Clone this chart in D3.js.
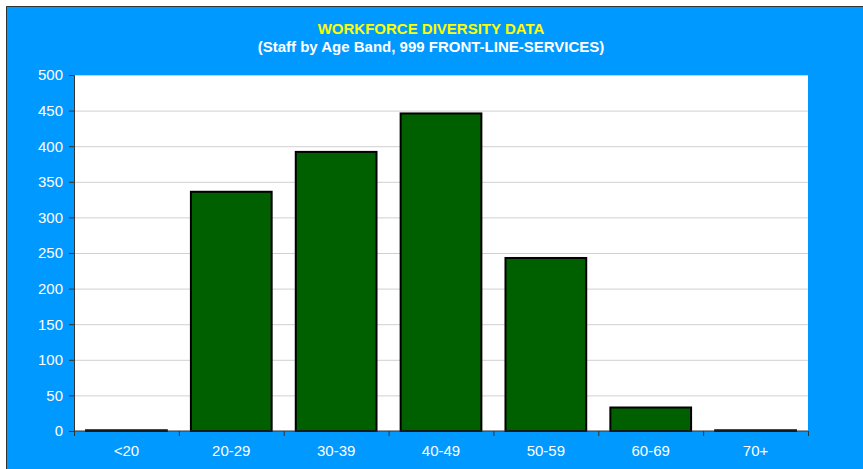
<!DOCTYPE html>
<html>
<head>
<meta charset="utf-8">
<script src="https://cdn.jsdelivr.net/npm/d3@7"></script>
<style>
body { margin: 0; background: #fff; }
svg { display: block; font-family: 'Liberation Sans', Arial, sans-serif; }
</style>
</head>
<body>
<script>
// chart data
var bands = ['<20', '20-29', '30-39', '40-49', '50-59', '60-69', '70+']
var staff = [1, 336, 392, 446, 243, 33, 1]
var yTicks = [0, 50, 100, 150, 200, 250, 300, 350, 400, 450, 500]

var W = 863, H = 469
var margin = { top: 75, right: 55, bottom: 38, left: 74 },
    width = 808 - margin.left,
    height = 431 - margin.top

var svg = d3.select('body').append('svg')
    .attr('width', W)
    .attr('height', H)

// blue frame with dark edge
svg.append('rect')
    .attr('x', 6).attr('y', 6)
    .attr('width', W - 6).attr('height', H - 6)
    .attr('fill', '#0099ff')
svg.append('path')
    .attr('d', 'M6.5,' + H + 'V6.5H' + W)
    .attr('fill', 'none')
    .attr('stroke', '#333')
    .attr('stroke-width', 1)

svg.append('text')
    .attr('x', 431).attr('y', 34)
    .attr('text-anchor', 'middle')
    .attr('fill', '#ffff00')
    .attr('font-weight', 'bold')
    .attr('font-size', 15)
    .text('WORKFORCE DIVERSITY DATA')
svg.append('text')
    .attr('x', 431).attr('y', 52)
    .attr('text-anchor', 'middle')
    .attr('fill', '#fff')
    .attr('font-weight', 'bold')
    .attr('font-size', 15)
    .text('(Staff by Age Band, 999 FRONT-LINE-SERVICES)')

var g = svg.append('g')
    .attr('transform', 'translate(' + margin.left + ',' + margin.top + ')')

var x = d3.scaleBand().domain(bands).range([0, width]).paddingInner(0.23).paddingOuter(0.115)
var xb = d3.scaleBand().domain(bands).range([0, width])
var y = d3.scaleLinear().domain([0, 500]).range([height, 0])

g.append('rect')
    .attr('width', width).attr('height', height)
    .attr('fill', '#fff')

// gridlines
g.selectAll('.grid')
    .data(yTicks.slice(1))
    .enter().append('line')
    .attr('x1', 0).attr('x2', width)
    .attr('y1', d => y(d) + 0.5).attr('y2', d => y(d) + 0.5)
    .attr('stroke', '#d0d0d0')

// bars
g.selectAll('.bar')
    .data(bands)
    .enter().append('rect')
    .attr('x', d => x(d))
    .attr('y', (d, i) => y(staff[i]))
    .attr('width', x.bandwidth())
    .attr('height', (d, i) => height - y(staff[i]))
    .attr('fill', '#006000')
    .attr('stroke', '#000')
    .attr('stroke-width', 2)

// y axis
var yAxis = g.append('g')
    .call(d3.axisLeft(y).tickValues(yTicks).tickSize(5).tickPadding(6))
yAxis.select('.domain').attr('stroke', '#333')
yAxis.selectAll('line').attr('stroke', '#333')
yAxis.selectAll('text').attr('fill', '#fff').attr('font-size', 15).attr('font-family', 'Liberation Sans, Arial, sans-serif')

// x axis: ticks at band boundaries
var xAxis = g.append('g')
    .attr('transform', 'translate(0,' + height + ')')
xAxis.append('line')
    .attr('x1', 0).attr('x2', width)
    .attr('stroke', '#333')
xAxis.selectAll('.tk')
    .data(bands.concat(['end']))
    .enter().append('line')
    .attr('x1', (d, i) => i * xb.step() + 0.5)
    .attr('x2', (d, i) => i * xb.step() + 0.5)
    .attr('y1', 0).attr('y2', 5)
    .attr('stroke', '#333')
xAxis.selectAll('.lbl')
    .data(bands)
    .enter().append('text')
    .attr('x', d => xb(d) + xb.bandwidth() / 2)
    .attr('y', 25)
    .attr('text-anchor', 'middle')
    .attr('fill', '#fff')
    .attr('font-size', 15)
    .text(d => d)
</script>
</body>
</html>
